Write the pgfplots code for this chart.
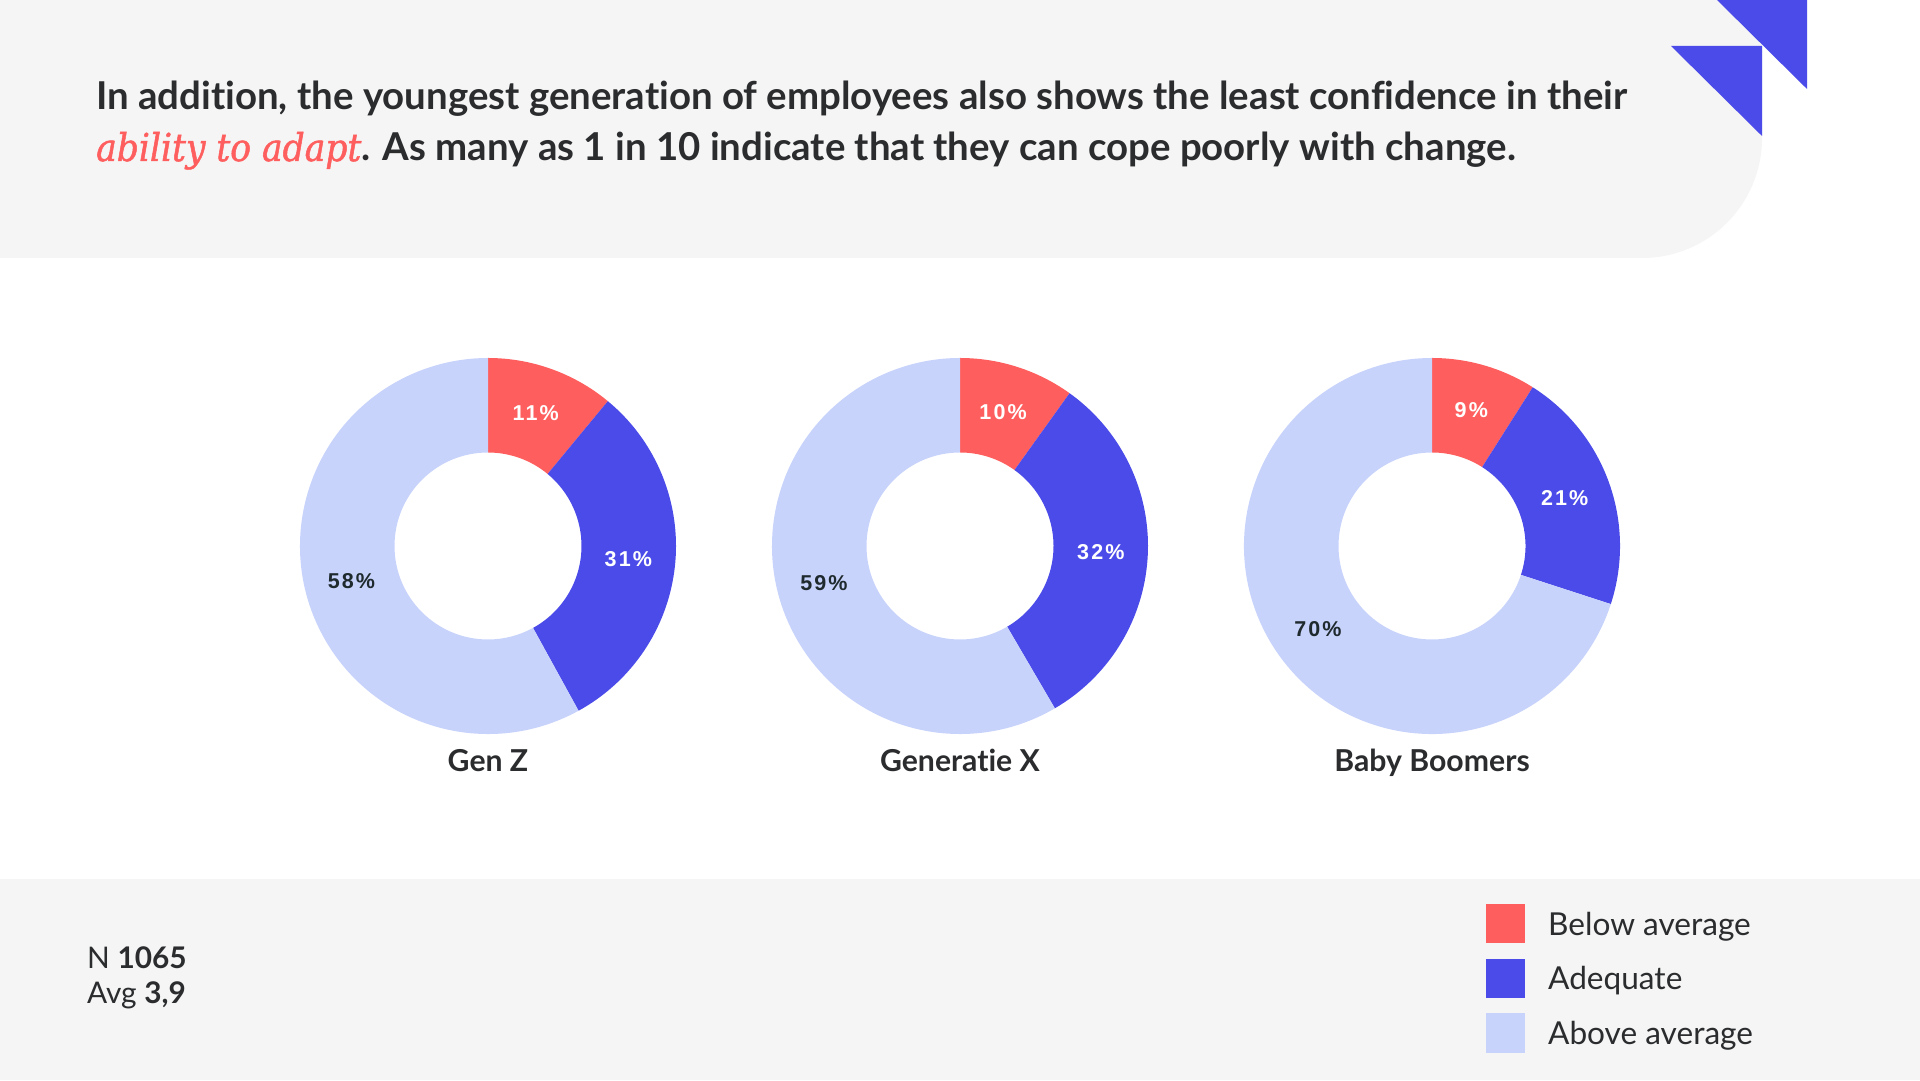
\documentclass[border=0pt]{standalone}
\usepackage{fontspec}
\setmainfont{Lato}[Ligatures=NoCommon]
\newfontfamily\serifit{DejaVu Serif Condensed}[FakeBold=1.3]
\newfontfamily\pctfamily{Liberation Sans}[LetterSpace=10]
\usepackage{pgfplots}
\usepackage{pgfplotstable}
\pgfplotsset{compat=1.18}
\usetikzlibrary{calc}

\definecolor{cBelow}{HTML}{FF5E5E}
\definecolor{cAdeq}{HTML}{4B4BE9}
\definecolor{cAbove}{HTML}{C8D3FC}
\definecolor{cGrey}{HTML}{F5F5F5}
\definecolor{cText}{HTML}{2A2C2E}
\definecolor{cDark}{HTML}{1F2A2E}

\pgfplotstableread[col sep=comma]{
group,cx,below,adequate,above
Gen Z,488,11,31,58
Generatie X,960,10,32,59
Baby Boomers,1432,9,21,70
}\donutdata

\begin{document}
\begin{tikzpicture}[x=1pt,y=1pt,
  pct/.style={font=\pctfamily\bfseries\fontsize{21.5}{25}\selectfont, inner sep=0pt},
  grp/.style={font=\bfseries\fontsize{30.2}{35}\selectfont, text=cText, inner sep=0pt, anchor=base}]
% page and backgrounds
\fill[white] (0,0) rectangle (1920,1080);
\fill[cGrey] (0,1080) -- (1762,1080) -- (1762,942) arc[start angle=0,end angle=-90,radius=120] -- (0,822) -- cycle;
\fill[cAdeq] (1717,1080) -- (1807,1080) -- (1807,991) -- cycle;
\fill[cAdeq] (1671,1034) -- (1762,1034) -- (1762,944) -- cycle;
\fill[cGrey] (0,0) rectangle (1920,201);

\begin{axis}[at={(0,0)}, anchor=south west, scale only axis,
  width=1920pt, height=1080pt, xmin=0, xmax=1920, ymin=0, ymax=1080,
  hide axis, clip=false]
\pgfplotsforeachungrouped \rowi in {0,1,2}{%
  \pgfplotstablegetelem{\rowi}{cx}\of\donutdata \let\dcx\pgfplotsretval
  \pgfplotstablegetelem{\rowi}{below}\of\donutdata \let\va\pgfplotsretval
  \pgfplotstablegetelem{\rowi}{adequate}\of\donutdata \let\vb\pgfplotsretval
  \pgfplotstablegetelem{\rowi}{above}\of\donutdata \let\vc\pgfplotsretval
  \pgfplotstablegetelem{\rowi}{group}\of\donutdata \let\gname\pgfplotsretval
  \pgfmathsetmacro\tot{\va+\vb+\vc}
  \pgfmathsetmacro\aA{90}
  \pgfmathsetmacro\aB{90-360*\va/\tot}
  \pgfmathsetmacro\aC{\aB-360*\vb/\tot}
  \pgfmathsetmacro\aD{-270}
  \pgfmathsetmacro\mA{(\aA+\aB)/2}
  \pgfmathsetmacro\mB{(\aB+\aC)/2}
  \pgfmathsetmacro\mC{(\aC+\aD)/2}
  \edef\cmd{%
    \noexpand\fill[cBelow] (axis cs:\dcx,534) ++(\aA:188pt) arc[start angle=\aA, end angle=\aB, radius=188pt] -- ($(axis cs:\dcx,534)+(\aB:93.5pt)$) arc[start angle=\aB, end angle=\aA, radius=93.5pt] -- cycle;
    \noexpand\fill[cAdeq] (axis cs:\dcx,534) ++(\aB:188pt) arc[start angle=\aB, end angle=\aC, radius=188pt] -- ($(axis cs:\dcx,534)+(\aC:93.5pt)$) arc[start angle=\aC, end angle=\aB, radius=93.5pt] -- cycle;
    \noexpand\fill[cAbove] (axis cs:\dcx,534) ++(\aC:188pt) arc[start angle=\aC, end angle=\aD, radius=188pt] -- ($(axis cs:\dcx,534)+(\aD:93.5pt)$) arc[start angle=\aD, end angle=\aC, radius=93.5pt] -- cycle;
    \noexpand\node[pct, text=white] at ($(axis cs:\dcx,534)+(\mA:141pt)$) {\va\noexpand\%};
    \noexpand\node[pct, text=white] at ($(axis cs:\dcx,534)+(\mB:141pt)$) {\vb\noexpand\%};
    \noexpand\node[pct, text=cDark] at ($(axis cs:\dcx,534)+(\mC:141pt)$) {\vc\noexpand\%};
    \noexpand\node[grp] at (axis cs:\dcx,308) {\gname};
  }%
  \cmd
}
\end{axis}

% title
\node[anchor=base west, inner sep=0pt, font=\bfseries\fontsize{38.4}{46}\selectfont, text=cText] at (96,970)
  {In addition, the youngest generation of employees also shows the least confidence in their};
\node[anchor=base west, inner sep=0pt, font=\bfseries\fontsize{38.4}{46}\selectfont, text=cText] at (96,919)
  {{\serifit\mdseries\itshape\color{cBelow}ability to adapt}. As many as 1 in 10 indicate that they can cope poorly with change.};

% footer
\node[anchor=base west, inner sep=0pt, font=\fontsize{29.8}{35}\selectfont, text=cText] at (87,112) {N \textbf{1065}};
\node[anchor=base west, inner sep=0pt, font=\fontsize{29.8}{35}\selectfont, text=cText] at (87,77) {Avg \textbf{3,9}};

% legend
\fill[cBelow] (1486,137) rectangle (1525,176);
\fill[cAdeq] (1486,82) rectangle (1525,121);
\fill[cAbove] (1486,27) rectangle (1525,67);
\node[anchor=base west, inner sep=0pt, font=\fontsize{31.6}{37}\selectfont, text=cText] at (1548,145) {Below average};
\node[anchor=base west, inner sep=0pt, font=\fontsize{31.6}{37}\selectfont, text=cText] at (1548,91) {Adequate};
\node[anchor=base west, inner sep=0pt, font=\fontsize{31.6}{37}\selectfont, text=cText] at (1548,36) {Above average};

\pgfresetboundingbox
\path (0,0) rectangle (1920,1080);
\end{tikzpicture}
\end{document}
